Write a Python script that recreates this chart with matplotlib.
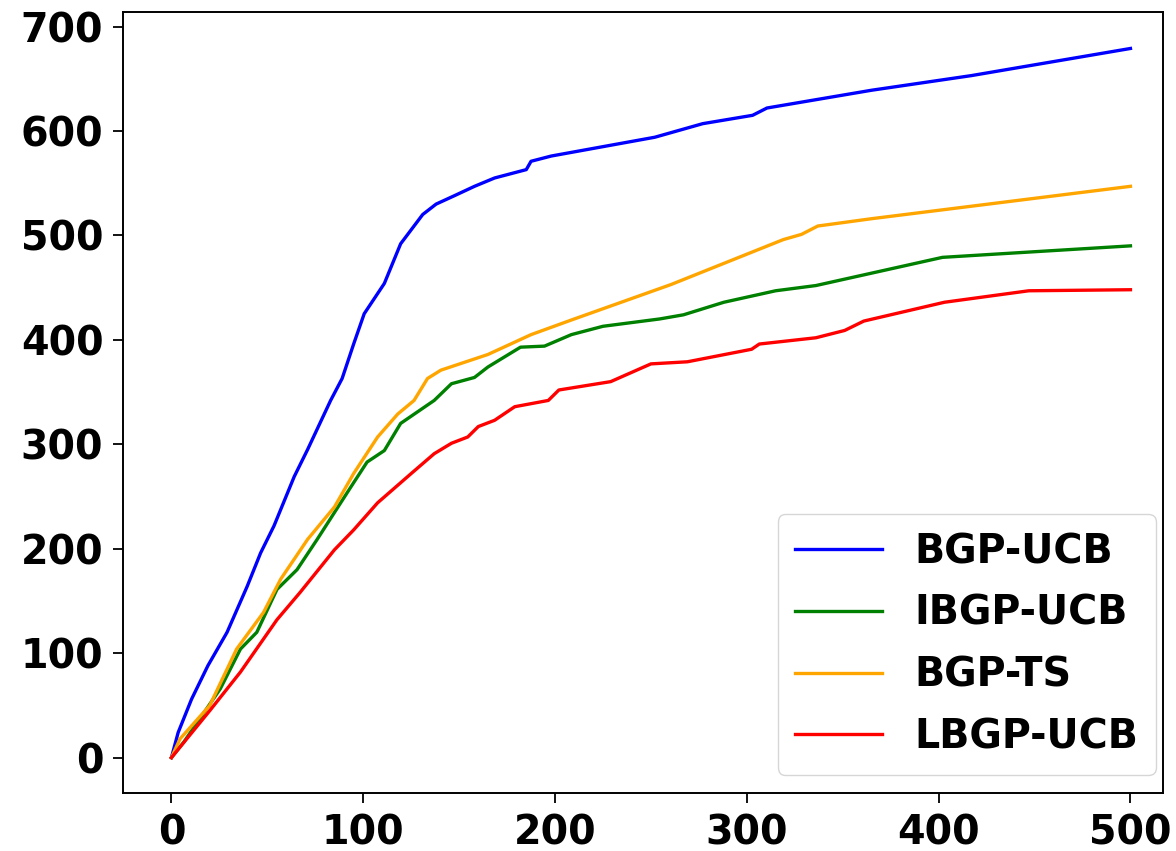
import matplotlib
matplotlib.use("Agg")
import matplotlib.pyplot as plt

# values
bgp_ucb_x = [0, 3.5, 10.5, 19, 29, 39.5, 46.5, 53.5, 64, 71, 83, 89, 95, 100.5, 111, 119.5,
             131, 138, 147.5, 158, 168.5, 185, 187.5, 198, 252, 277, 303, 310.5, 365, 417, 500]
bgp_ucb_y = [0, 24, 56, 88, 120, 164, 196, 222, 269, 295, 342, 363, 396, 425, 454, 492,
             520, 530, 538, 547, 555, 563, 571, 576, 594, 607, 615, 622, 639, 653, 679]

ibgp_ucb_x = [0, 6.5, 25.5, 36, 44.5, 55, 65.5, 76, 93.5, 102, 111, 119.5, 137, 146, 158,
              165, 182, 194.5, 208.5, 225, 254.5, 267, 288, 315, 336, 402, 500]
ibgp_ucb_y = [0, 15, 66, 104, 120, 161, 180, 209, 259, 283, 294, 320, 342, 358, 364,
              374, 393, 394, 405, 413, 420, 424, 436, 447, 452, 479, 490]

bgp_ts_x = [0, 4.5, 20, 34, 48, 57, 71, 85, 95, 107.5, 118, 126.5, 133.5, 140.5, 165,
            187.5, 208.5, 260.5, 319, 328.5, 337, 365, 500]
bgp_ts_y = [0, 18, 50, 104, 139, 171, 209, 240, 272, 307, 329, 342, 363, 371, 386,
            405, 419, 453, 496, 501, 509, 516, 547]

lbgp_ucb_x = [0, 20, 36, 55, 67, 85, 95, 107.5, 125, 137, 146, 154.5, 160, 168.5, 179,
              196.5, 202, 229, 250, 269, 302.5, 306.5, 336, 351, 361, 403, 447, 500]
lbgp_ucb_y = [0, 45, 82, 132, 158, 199, 218, 244, 272, 291, 301, 307, 317, 323, 336,
              342, 352, 360, 377, 379, 391, 396, 402, 409, 418, 436, 447, 448]

series = [
    ("BGP-UCB", bgp_ucb_x, bgp_ucb_y, "blue"),
    ("IBGP-UCB", ibgp_ucb_x, ibgp_ucb_y, "green"),
    ("BGP-TS", bgp_ts_x, bgp_ts_y, "orange"),
    ("LBGP-UCB", lbgp_ucb_x, lbgp_ucb_y, "red"),
]

plt.rcParams["font.weight"] = "bold"

fig, ax = plt.subplots(figsize=(11.76, 8.51), dpi=100)
fig.subplots_adjust(left=0.105, right=0.989, top=0.986, bottom=0.068)

for label, xs, ys, color in series:
    ax.plot(xs, ys, color=color, linewidth=2.4, label=label)

ax.set_xlim(-25, 517)
ax.set_ylim(-34, 714)
ax.set_xticks([0, 100, 200, 300, 400, 500])
ax.set_yticks([0, 100, 200, 300, 400, 500, 600, 700])
ax.tick_params(labelsize=28.5, length=7, width=1.3, pad=7.5)
for lbl in ax.get_xticklabels() + ax.get_yticklabels():
    lbl.set_fontweight("bold")
for sp in ax.spines.values():
    sp.set_linewidth(1.4)

ax.legend(loc="lower right", bbox_to_anchor=(0.993, 0.023), borderaxespad=0,
          fontsize=28.5, handlelength=2.2, borderpad=0.45,
          labelspacing=0.55, handletextpad=0.8)

plt.savefig("out.png", dpi=100)
plt.close()
